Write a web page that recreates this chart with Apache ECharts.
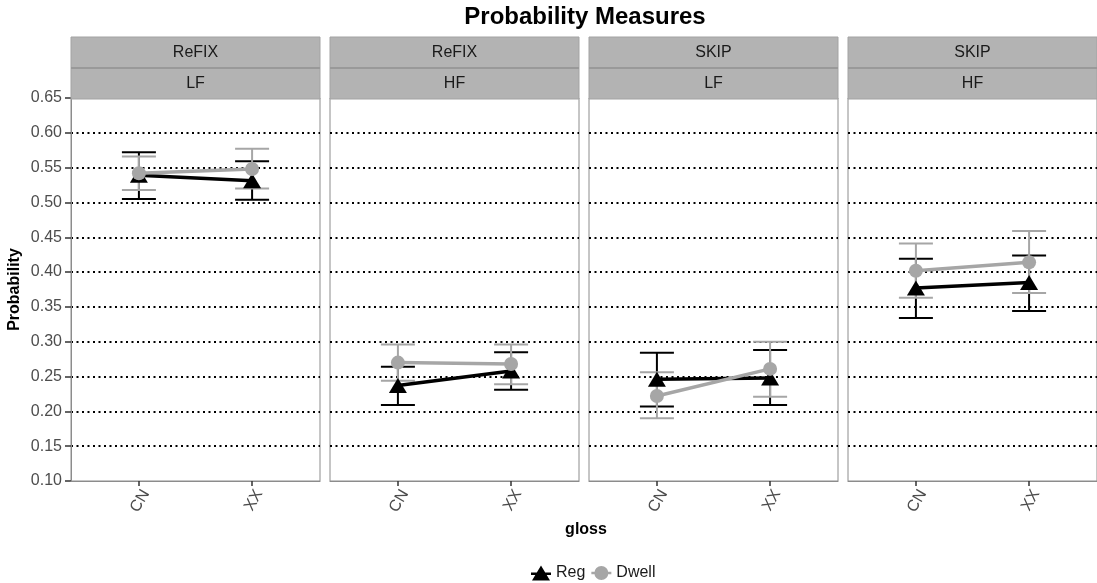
<!DOCTYPE html>
<html>
<head>
<meta charset="utf-8">
<script src="https://cdn.jsdelivr.net/npm/echarts@6/dist/echarts.min.js"></script>
<style>
  html, body { margin: 0; padding: 0; background: #fff; }
  #chart { width: 1097px; height: 583px; }
</style>
</head>
<body>
<div id="chart"></div>
<script>
// Facet labels (two strip rows per panel)
const stripTop = ['ReFIX', 'ReFIX', 'SKIP', 'SKIP'];
const stripBottom = ['LF', 'HF', 'LF', 'HF'];
const categories = ['CN', 'XX'];
const yTicks = { min: 0.10, max: 0.65, step: 0.05 };

// Means and error-bar limits per panel, ordered [CN, XX]
const regMean   = [[0.539, 0.531], [0.237, 0.258], [0.246, 0.248], [0.377, 0.385]];
const regLow    = [[0.505, 0.504], [0.209, 0.231], [0.207, 0.209], [0.334, 0.344]];
const regHigh   = [[0.572, 0.559], [0.264, 0.285], [0.284, 0.288], [0.419, 0.424]];
const dwellMean = [[0.542, 0.548], [0.270, 0.268], [0.222, 0.261], [0.402, 0.414]];
const dwellLow  = [[0.518, 0.520], [0.244, 0.239], [0.190, 0.221], [0.363, 0.370]];
const dwellHigh = [[0.566, 0.577], [0.296, 0.296], [0.256, 0.300], [0.441, 0.459]];

const FONT = 'Liberation Sans, Arial, sans-serif';
const REG_COLOR = '#000000';
const DWELL_COLOR = '#a6a6a6';

// legend keys: point shape drawn over a short line segment
const REG_ICON = 'path://M10,0 L19,15 L1,15 Z M0,7 L20,7 L20,9.5 L0,9.5 Z';
const DWELL_ICON = 'path://M3,7.5 A7,7 0 1,1 17,7.5 A7,7 0 1,1 3,7.5 Z M0,6.25 L20,6.25 L20,8.75 L0,8.75 Z';

const panelLeft = [71, 330, 589, 848];
const panelWidth = 249;
const panelTop = 98;
const panelBottom = 481;

// dotted grid lines only between the panel edges (first and last tick are the border)
const tickCount = Math.round((yTicks.max - yTicks.min) / yTicks.step) + 1;
const gridColors = Array.from({ length: tickCount }, (_, k) =>
  (k === 0 || k === tickCount - 1) ? 'rgba(0,0,0,0)' : '#000');

const chart = echarts.init(document.getElementById('chart'), null, { renderer: 'canvas' });

const grids = [], xAxes = [], yAxes = [], series = [], graphics = [];

function errorBarSeries(name, color, idx, low, high, z) {
  return {
    name: name,
    type: 'custom',
    xAxisIndex: idx,
    yAxisIndex: idx,
    z: z,
    silent: true,
    data: categories.map((c, k) => [k + 1, low[idx][k], high[idx][k]]),
    encode: { x: 0, y: [1, 2] },
    renderItem: function (params, api) {
      const x = api.value(0);
      const top = api.coord([x, api.value(2)]);
      const bot = api.coord([x, api.value(1)]);
      const half = 17;
      const style = { stroke: color, lineWidth: 2, fill: null };
      return {
        type: 'group',
        children: [
          { type: 'line', shape: { x1: top[0], y1: top[1], x2: bot[0], y2: bot[1] }, style: style },
          { type: 'line', shape: { x1: top[0] - half, y1: top[1], x2: top[0] + half, y2: top[1] }, style: style },
          { type: 'line', shape: { x1: bot[0] - half, y1: bot[1], x2: bot[0] + half, y2: bot[1] }, style: style }
        ]
      };
    }
  };
}

for (let i = 0; i < 4; i++) {
  grids.push({
    left: panelLeft[i], width: panelWidth, top: panelTop, height: panelBottom - panelTop,
    show: true, borderColor: '#8c8c8c', borderWidth: 1, backgroundColor: '#fff'
  });
  xAxes.push({
    type: 'value', gridIndex: i, min: 0.4, max: 2.6, z: 3,
    axisLine: { show: true, lineStyle: { color: '#8c8c8c', width: 1.2 } },
    axisTick: { show: true, customValues: [1, 2], length: 5, lineStyle: { color: '#333', width: 1.5 } },
    axisLabel: {
      show: true, customValues: [1, 2], rotate: 60, margin: 6, verticalAlign: 'top',
      formatter: v => categories[Math.round(v) - 1] || '',
      fontFamily: FONT, fontSize: 16, color: '#4d4d4d'
    },
    splitLine: { show: false }
  });
  yAxes.push({
    type: 'value', gridIndex: i, min: yTicks.min, max: yTicks.max, interval: yTicks.step,
    name: i === 0 ? 'Probability' : '',
    nameLocation: 'middle', nameRotate: 90, nameGap: 48,
    nameTextStyle: { fontFamily: FONT, fontSize: 16, fontWeight: 'bold', color: '#000' },
    axisLine: { show: i === 0, lineStyle: { color: '#8c8c8c', width: 1 } },
    axisTick: { show: i === 0, length: 6, lineStyle: { color: '#333', width: 1.5 } },
    axisLabel: {
      show: i === 0, margin: 9,
      formatter: v => v.toFixed(2),
      fontFamily: FONT, fontSize: 16, color: '#4d4d4d'
    },
    splitLine: { show: true, lineStyle: { color: gridColors, type: [2, 3.5], width: 2 } }
  });

  // error bars
  series.push(errorBarSeries('Reg SE', REG_COLOR, i, regLow, regHigh, 2));
  series.push(errorBarSeries('Dwell SE', DWELL_COLOR, i, dwellLow, dwellHigh, 3));
  // connecting lines
  series.push({
    name: 'Reg', type: 'line', xAxisIndex: i, yAxisIndex: i, z: 4,
    symbol: 'none', silent: true,
    itemStyle: { color: REG_COLOR },
    lineStyle: { color: REG_COLOR, width: 3.5 },
    data: categories.map((c, k) => [k + 1, regMean[i][k]])
  });
  series.push({
    name: 'Dwell', type: 'line', xAxisIndex: i, yAxisIndex: i, z: 5,
    symbol: 'none', silent: true,
    itemStyle: { color: DWELL_COLOR },
    lineStyle: { color: DWELL_COLOR, width: 3.5 },
    data: categories.map((c, k) => [k + 1, dwellMean[i][k]])
  });
  // points
  series.push({
    name: 'Reg', type: 'scatter', xAxisIndex: i, yAxisIndex: i, z: 6,
    symbol: 'triangle', symbolSize: [18, 15], silent: true,
    itemStyle: { color: REG_COLOR, opacity: 1 },
    data: categories.map((c, k) => [k + 1, regMean[i][k]])
  });
  series.push({
    name: 'Dwell', type: 'scatter', xAxisIndex: i, yAxisIndex: i, z: 7,
    symbol: 'circle', symbolSize: 14, silent: true,
    itemStyle: { color: DWELL_COLOR, opacity: 1 },
    data: categories.map((c, k) => [k + 1, dwellMean[i][k]])
  });

  // facet strips
  const sx = panelLeft[i];
  graphics.push({
    type: 'rect', shape: { x: sx, y: 37, width: panelWidth, height: 31 },
    style: { fill: '#b3b3b3', stroke: '#a3a3a3', lineWidth: 1 }, z: 10
  });
  graphics.push({
    type: 'rect', shape: { x: sx, y: 68, width: panelWidth, height: 31 },
    style: { fill: '#b3b3b3', stroke: '#a3a3a3', lineWidth: 1 }, z: 10
  });
  graphics.push({
    type: 'line', shape: { x1: sx, y1: 68, x2: sx + panelWidth, y2: 68 },
    style: { stroke: '#999', lineWidth: 2 }, z: 11
  });
  graphics.push({
    type: 'text', x: sx + panelWidth / 2, y: 53, z: 12,
    style: { text: stripTop[i], fill: '#1a1a1a', font: '16px ' + FONT, align: 'center', verticalAlign: 'middle' }
  });
  graphics.push({
    type: 'text', x: sx + panelWidth / 2, y: 84, z: 12,
    style: { text: stripBottom[i], fill: '#1a1a1a', font: '16px ' + FONT, align: 'center', verticalAlign: 'middle' }
  });
}

graphics.push({
  type: 'text', x: 585, y: 17, z: 12,
  style: { text: 'Probability Measures', fill: '#000', font: 'bold 24px ' + FONT, align: 'center', verticalAlign: 'middle' }
});
graphics.push({
  type: 'text', x: 586, y: 530, z: 12,
  style: { text: 'gloss', fill: '#000', font: 'bold 16px ' + FONT, align: 'center', verticalAlign: 'middle' }
});

chart.setOption({
  animation: false,
  backgroundColor: '#fff',
  grid: grids,
  xAxis: xAxes,
  yAxis: yAxes,
  series: series,
  graphic: graphics,
  legend: {
    data: [{ name: 'Reg', icon: REG_ICON }, { name: 'Dwell', icon: DWELL_ICON }],
    left: 526, top: 560,
    itemWidth: 20, itemHeight: 15, itemGap: 6,
    textStyle: { fontFamily: FONT, fontSize: 16, color: '#1a1a1a' },
    selectedMode: false
  }
});
</script>
</body>
</html>
